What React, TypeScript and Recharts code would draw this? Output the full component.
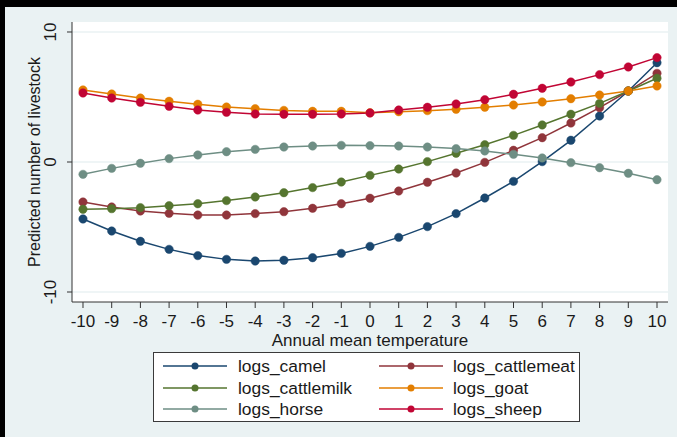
import React from "react";
import { LineChart, Line, XAxis, YAxis, CartesianGrid } from "recharts";

const temps = [-10, -9, -8, -7, -6, -5, -4, -3, -2, -1, 0, 1, 2, 3, 4, 5, 6, 7, 8, 9, 10];

const camel = [-4.38, -5.31, -6.1, -6.72, -7.2, -7.49, -7.62, -7.56, -7.36, -7.03, -6.49, -5.8, -4.97, -3.97, -2.77, -1.49, 0.03, 1.67, 3.54, 5.46, 7.64];
const cattlemeat = [-3.08, -3.46, -3.77, -3.95, -4.08, -4.08, -3.97, -3.82, -3.56, -3.21, -2.79, -2.23, -1.56, -0.85, -0.03, 0.9, 1.87, 3.0, 4.18, 5.46, 6.82];
const cattlemilk = [-3.64, -3.59, -3.51, -3.36, -3.21, -2.97, -2.69, -2.36, -1.97, -1.54, -1.03, -0.54, 0.03, 0.67, 1.33, 2.05, 2.85, 3.67, 4.51, 5.46, 6.44];
const goat = [5.54, 5.23, 4.92, 4.67, 4.44, 4.23, 4.1, 3.97, 3.9, 3.9, 3.79, 3.87, 3.95, 4.05, 4.21, 4.38, 4.62, 4.87, 5.15, 5.46, 5.85];
const horse = [-0.95, -0.49, -0.1, 0.26, 0.54, 0.79, 0.97, 1.15, 1.23, 1.28, 1.26, 1.23, 1.15, 1.03, 0.85, 0.59, 0.31, -0.05, -0.44, -0.87, -1.36];
const sheep = [5.31, 4.92, 4.59, 4.28, 4.0, 3.82, 3.69, 3.67, 3.67, 3.69, 3.77, 4.0, 4.21, 4.46, 4.79, 5.21, 5.67, 6.15, 6.72, 7.31, 8.03];

const yTicks = [-10, 0, 10];
const xTitle = "Annual mean temperature";
const yTitle = "Predicted number of livestock";

const series = [
  { key: "logs_camel", values: camel, color: "#1a476f" },
  { key: "logs_cattlemeat", values: cattlemeat, color: "#90353b" },
  { key: "logs_cattlemilk", values: cattlemilk, color: "#55752f" },
  { key: "logs_goat", values: goat, color: "#e37e00" },
  { key: "logs_horse", values: horse, color: "#6e8e84" },
  { key: "logs_sheep", values: sheep, color: "#c10534" },
];

const data = temps.map((t, i) => {
  const row: Record<string, number> = { t };
  series.forEach((s) => {
    row[s.key] = s.values[i];
  });
  return row;
});

const FONT = '"Liberation Sans", Arial, sans-serif';
const TEXT = "#1a1a1a";

const YTick = (props: any) => {
  const { y, payload } = props;
  const bx = 56;
  return (
    <text
      x={bx}
      y={y}
      transform={`rotate(-90, ${bx}, ${y})`}
      textAnchor="middle"
      fontSize={17}
      fontFamily={FONT}
      fill={TEXT}
    >
      {payload.value}
    </text>
  );
};

const XTick = (props: any) => {
  const { x, y, payload } = props;
  return (
    <text x={x} y={y + 19} textAnchor="middle" fontSize={17} fontFamily={FONT} fill={TEXT}>
      {payload.value}
    </text>
  );
};

const LegendBox = () => {
  const rows = [
    [series[0], series[1]],
    [series[2], series[3]],
    [series[4], series[5]],
  ];
  const rowY = [14, 36, 57];
  const cols = [
    { x1: 9, x2: 73, m: 41, tx: 84 },
    { x1: 225, x2: 289, m: 257, tx: 299 },
  ];
  return (
    <div
      style={{
        position: "absolute",
        left: 153,
        top: 352,
        width: 427,
        height: 70,
        boxSizing: "border-box",
        border: "1px solid #3a3a3a",
        background: "#ffffff",
      }}
    >
      <svg width={425} height={68} style={{ position: "absolute", left: 0, top: 0 }}>
        {rows.map((r, ri) =>
          r.map((s, ci) => {
            const c = cols[ci];
            const y = rowY[ri] - 1;
            return (
              <g key={s.key}>
                <line x1={c.x1} x2={c.x2} y1={y} y2={y} stroke={s.color} strokeWidth={1.5} />
                <circle cx={c.m} cy={y} r={3.5} fill={s.color} />
                <text x={c.tx} y={y + 6} fontSize={17.4} fontFamily={FONT} fill={TEXT}>
                  {s.key}
                </text>
              </g>
            );
          })
        )}
      </svg>
    </div>
  );
};

export default function App() {
  return (
    <div
      style={{
        position: "fixed",
        left: 0,
        top: 0,
        width: 677,
        height: 437,
        boxSizing: "border-box",
        background: "#eaf2f3",
        borderTop: "7px solid #000",
        borderLeft: "5px solid #000",
        overflow: "hidden",
      }}
    >
      <div style={{ position: "absolute", left: -5, top: -7 }}>
        <LineChart
          width={677}
          height={437}
          data={data}
          margin={{ top: 22, right: 9, left: 0, bottom: 85 }}
        >
          <CartesianGrid
            vertical={false}
            horizontal={true}
            fill="#ffffff"
            stroke="#eaf2f3"
            strokeWidth={1.5}
            horizontalValues={yTicks}
          />
          <XAxis
            dataKey="t"
            type="number"
            domain={[-10.383, 10.383]}
            ticks={temps}
            interval={0}
            allowDataOverflow
            height={50}
            tickSize={6}
            tickMargin={0}
            axisLine={{ stroke: "#333", strokeWidth: 1 }}
            tickLine={{ stroke: "#333", strokeWidth: 1 }}
            tick={<XTick />}
            label={{
              content: () => (
                <text x={370} y={346} textAnchor="middle" fontSize={17} fontFamily={FONT} fill={TEXT}>
                  {xTitle}
                </text>
              ),
            }}
          />
          <YAxis
            type="number"
            domain={[-10.769, 10.769]}
            ticks={yTicks}
            interval={0}
            allowDataOverflow
            width={72}
            tickSize={5}
            axisLine={{ stroke: "#333", strokeWidth: 1 }}
            tickLine={{ stroke: "#333", strokeWidth: 1 }}
            tick={<YTick />}
            label={{
              content: () => (
                <text
                  x={40}
                  y={162}
                  transform="rotate(-90, 40, 162)"
                  textAnchor="middle"
                  fontSize={16}
                  fontFamily={FONT}
                  fill={TEXT}
                >
                  {yTitle}
                </text>
              ),
            }}
          />
          {series.map((s) => (
            <Line
              key={s.key}
              dataKey={s.key}
              type="linear"
              stroke={s.color}
              strokeWidth={1.5}
              dot={{ r: 4.2, fill: s.color, stroke: s.color, strokeWidth: 0.5 }}
              activeDot={false}
              isAnimationActive={false}
            />
          ))}
        </LineChart>
      </div>
      <div style={{ position: "absolute", left: -5, top: -7, width: 677, height: 437 }}>
        <LegendBox />
      </div>
    </div>
  );
}
